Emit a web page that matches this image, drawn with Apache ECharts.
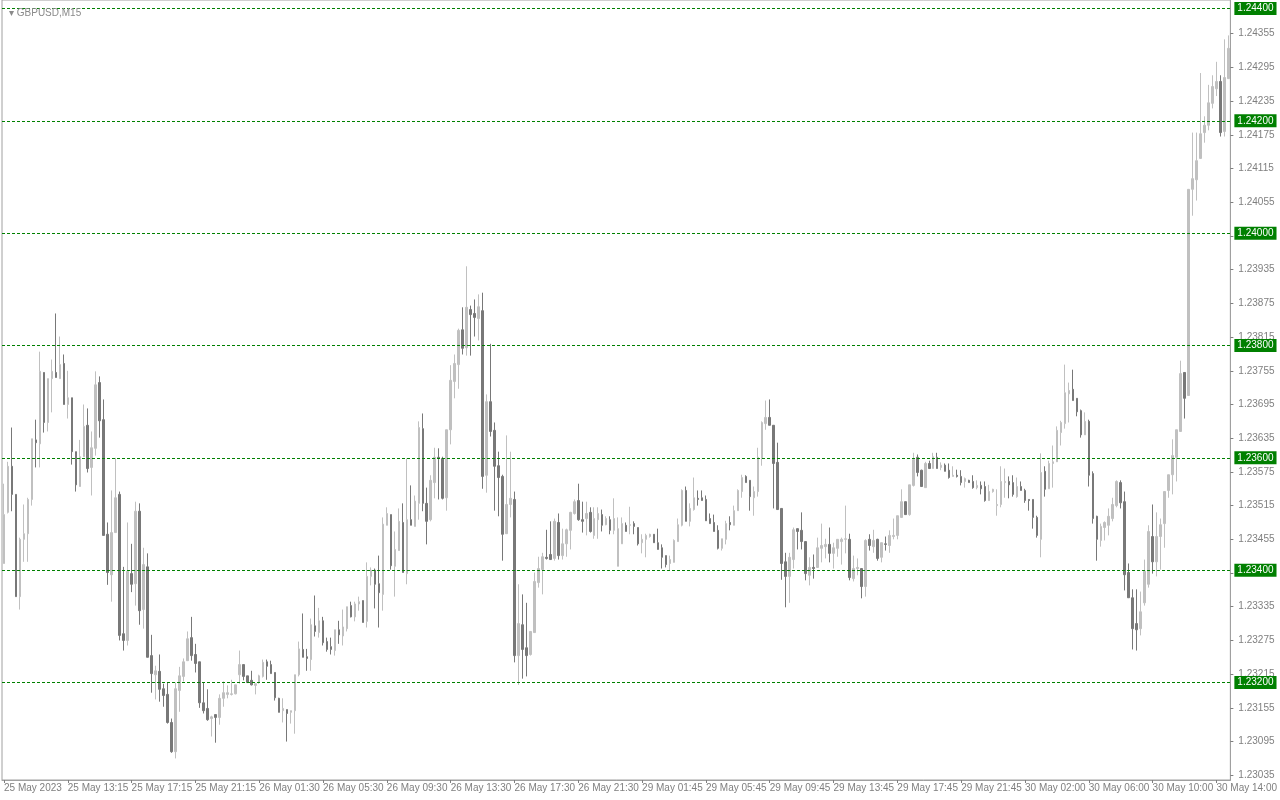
<!DOCTYPE html>
<html>
<head>
<meta charset="utf-8">
<script src="https://cdn.jsdelivr.net/npm/echarts@6/dist/echarts.min.js"></script>
<style>
html,body{margin:0;padding:0;background:#fff;}
#chart{width:1280px;height:800px;}
</style>
</head>
<body>
<div id="chart"></div>
<script>
// ---- data (GBPUSD, M15) ----
const symbolTitle = 'GBPUSD,M15';
const timeLabels = ['25 May 2023','25 May 13:15','25 May 17:15','25 May 21:15','26 May 01:30','26 May 05:30','26 May 09:30','26 May 13:30','26 May 17:30','26 May 21:30','29 May 01:45','29 May 05:45','29 May 09:45','29 May 13:45','29 May 17:45','29 May 21:45','30 May 02:00','30 May 06:00','30 May 10:00','30 May 14:00'];
const barsPerTimeLabel = 16;
const priceTicks = [1.23035,1.23095,1.23155,1.23215,1.23275,1.23335,1.23395,1.23455,1.23515,1.23575,1.23635,1.23695,1.23755,1.23815,1.23875,1.23935,1.23995,1.24055,1.24115,1.24175,1.24235,1.24295,1.24355];
const levels = [1.24400,1.24200,1.24000,1.23800,1.23600,1.23400,1.23200];

const open = [1.23412,1.23503,1.23585,1.23535,1.23353,1.23455,1.23465,1.23526,1.23632,1.23625,1.23752,1.23663,1.23741,1.23752,1.23741,1.23768,1.23695,1.23707,1.23611,1.23549,1.23602,1.23658,1.23583,1.23617,1.23734,1.23668,1.23464,1.23392,1.23467,1.23535,
1.23287,1.23275,1.23394,1.23376,1.23505,1.23330,1.23406,1.23248,1.23214,1.23220,1.23189,1.23179,1.23129,1.23077,1.23186,1.23211,1.23239,1.23280,1.23250,1.23237,
1.23164,1.23154,1.23136,1.23143,1.23138,1.23172,1.23179,1.23179,1.23180,1.23214,1.23232,1.23212,1.23204,1.23195,1.23200,1.23211,1.23237,1.23232,1.23218,1.23172,
1.23150,1.23152,1.23147,1.23150,1.23214,1.23259,1.23246,1.23241,1.23301,1.23289,1.23310,1.23273,1.23264,1.23257,1.23294,1.23283,1.23296,1.23337,1.23317,1.23340,
1.23346,1.23309,1.23389,1.23400,1.23376,1.23357,1.23480,1.23499,1.23407,1.23435,1.23485,1.23394,1.23490,1.23478,1.23519,1.23652,1.23519,1.23490,1.23556,1.23601,
1.23599,1.23529,1.23650,1.23736,1.23766,1.23828,1.23796,1.23864,1.23857,1.23848,1.23862,1.23569,1.23700,1.23649,1.23586,1.23567,1.23465,1.23517,1.23526,1.23248,
1.23303,1.23262,1.23250,1.23289,1.23378,1.23401,1.23423,1.23428,1.23421,1.23485,1.23426,1.23447,1.23471,1.23501,1.23524,1.23490,1.23492,1.23503,1.23462,1.23490,
1.23499,1.23481,1.23490,1.23471,1.23407,1.23447,1.23480,1.23480,1.23483,1.23476,1.23449,1.23455,1.23460,1.23464,1.23449,1.23440,1.23426,1.23412,1.23414,1.23451,
1.23480,1.23542,1.23487,1.23508,1.23528,1.23529,1.23526,1.23492,1.23485,1.23471,1.23439,1.23455,1.23485,1.23480,1.23506,1.23540,1.23567,1.23560,1.23529,1.23540,
1.23599,1.23661,1.23672,1.23658,1.23592,1.23510,1.23415,1.23389,1.23419,1.23474,1.23471,1.23451,1.23391,1.23405,1.23405,1.23439,1.23442,1.23446,1.23430,1.23439,
1.23451,1.23455,1.23455,1.23385,1.23403,1.23403,1.23371,1.23455,1.23442,1.23455,1.23423,1.23447,1.23444,1.23460,1.23462,1.23494,1.23522,1.23499,1.23551,1.23601,
1.23578,1.23547,1.23590,1.23581,1.23601,1.23583,1.23587,1.23578,1.23567,1.23569,1.23567,1.23558,1.23560,1.23558,1.23547,1.23551,1.23549,1.23524,1.23540,1.23515,
1.23517,1.23556,1.23558,1.23556,1.23531,1.23549,1.23542,1.23526,1.23526,1.23494,1.23455,1.23576,1.23545,1.23590,1.23593,1.23645,1.23661,1.23714,1.23722,1.23706,
1.23684,1.23641,1.23665,1.23572,1.23496,1.23453,1.23476,1.23480,1.23492,1.23515,1.23556,1.23522,1.23396,1.23351,1.23305,1.23296,1.23342,1.23375,1.23460,1.23415,
1.23460,1.23483,1.23542,1.23570,1.23601,1.23647,1.23752,1.23711,1.24078,1.24095,1.24133,1.24179,1.24192,1.24231,1.24257,1.24270,1.24181,1.24275];

const close = [1.23499,1.23585,1.23535,1.23353,1.23455,1.23465,1.23526,1.23634,1.23627,1.23754,1.23663,1.23741,1.23754,1.23743,1.23766,1.23695,1.23707,1.23611,1.23552,1.23602,1.23656,1.23581,1.23618,1.23730,1.23666,1.23462,1.23396,1.23467,1.23529,1.23284,
1.23275,1.23398,1.23375,1.23505,1.23328,1.23410,1.23245,1.23216,1.23221,1.23188,1.23177,1.23129,1.23077,1.23189,1.23212,1.23237,1.23278,1.23248,1.23234,1.23164,
1.23150,1.23134,1.23139,1.23138,1.23172,1.23182,1.23182,1.23180,1.23196,1.23232,1.23211,1.23200,1.23196,1.23198,1.23212,1.23236,1.23229,1.23216,1.23173,1.23147,
1.23154,1.23145,1.23150,1.23214,1.23260,1.23245,1.23243,1.23303,1.23291,1.23310,1.23271,1.23259,1.23259,1.23294,1.23285,1.23299,1.23335,1.23317,1.23340,1.23344,
1.23307,1.23389,1.23400,1.23375,1.23360,1.23482,1.23501,1.23408,1.23437,1.23487,1.23396,1.23490,1.23480,1.23523,1.23654,1.23519,1.23487,1.23560,1.23601,1.23599,
1.23528,1.23650,1.23738,1.23768,1.23827,1.23795,1.23868,1.23855,1.23850,1.23869,1.23567,1.23700,1.23647,1.23585,1.23565,1.23464,1.23517,1.23528,1.23248,1.23305,
1.23259,1.23248,1.23291,1.23380,1.23403,1.23424,1.23421,1.23419,1.23487,1.23426,1.23447,1.23472,1.23503,1.23522,1.23490,1.23487,1.23501,1.23469,1.23492,1.23501,
1.23480,1.23492,1.23471,1.23492,1.23474,1.23483,1.23469,1.23481,1.23478,1.23447,1.23455,1.23462,1.23464,1.23449,1.23437,1.23423,1.23410,1.23419,1.23453,1.23481,
1.23542,1.23487,1.23510,1.23529,1.23526,1.23524,1.23488,1.23483,1.23469,1.23439,1.23456,1.23483,1.23481,1.23506,1.23542,1.23565,1.23556,1.23531,1.23540,1.23601,
1.23663,1.23672,1.23658,1.23590,1.23508,1.23412,1.23389,1.23423,1.23472,1.23469,1.23451,1.23394,1.23405,1.23403,1.23440,1.23444,1.23446,1.23430,1.23440,1.23455,
1.23455,1.23456,1.23387,1.23403,1.23405,1.23371,1.23453,1.23444,1.23453,1.23421,1.23449,1.23446,1.23462,1.23462,1.23497,1.23522,1.23499,1.23552,1.23597,1.23574,
1.23549,1.23590,1.23581,1.23602,1.23581,1.23587,1.23576,1.23565,1.23569,1.23567,1.23556,1.23563,1.23556,1.23547,1.23551,1.23545,1.23524,1.23540,1.23544,1.23517,
1.23558,1.23558,1.23552,1.23535,1.23549,1.23542,1.23524,1.23524,1.23494,1.23462,1.23574,1.23544,1.23590,1.23593,1.23649,1.23663,1.23716,1.23720,1.23702,1.23682,
1.23641,1.23665,1.23569,1.23492,1.23455,1.23478,1.23485,1.23496,1.23517,1.23558,1.23520,1.23392,1.23351,1.23296,1.23294,1.23326,1.23398,1.23469,1.23415,1.23460,
1.23481,1.23540,1.23570,1.23604,1.23650,1.23750,1.23706,1.24078,1.24097,1.24129,1.24177,1.24192,1.24232,1.24261,1.24270,1.24179,1.24277,1.24329];

const high = [1.23554,1.23593,1.23654,1.23535,1.23458,1.23517,1.23529,1.23634,1.23668,1.23789,1.23752,1.23741,1.23775,1.23857,1.23816,1.23784,1.23755,1.23707,1.23611,1.23632,1.23695,1.23688,1.23647,1.23754,1.23745,1.23704,1.23485,1.23542,1.23600,1.23540,
1.23406,1.23485,1.23447,1.23522,1.23519,1.23440,1.23430,1.23285,1.23230,1.23250,1.23198,1.23200,1.23136,1.23200,1.23228,1.23243,1.23291,1.23317,1.23269,1.23237,
1.23200,1.23188,1.23141,1.23143,1.23179,1.23202,1.23195,1.23205,1.23196,1.23257,1.23232,1.23212,1.23221,1.23198,1.23214,1.23241,1.23241,1.23239,1.23218,1.23173,
1.23172,1.23152,1.23150,1.23214,1.23273,1.23323,1.23260,1.23314,1.23355,1.23333,1.23317,1.23280,1.23280,1.23294,1.23310,1.23330,1.23335,1.23344,1.23344,1.23353,
1.23346,1.23414,1.23405,1.23403,1.23426,1.23494,1.23512,1.23499,1.23469,1.23510,1.23519,1.23599,1.23551,1.23533,1.23665,1.23679,1.23547,1.23569,1.23618,1.23617,
1.23602,1.23650,1.23765,1.23784,1.23830,1.23868,1.23941,1.23871,1.23882,1.23891,1.23894,1.23713,1.23803,1.23663,1.23611,1.23570,1.23640,1.23611,1.23540,1.23375,
1.23357,1.23342,1.23291,1.23396,1.23424,1.23431,1.23472,1.23487,1.23492,1.23501,1.23474,1.23474,1.23504,1.23526,1.23554,1.23522,1.23522,1.23512,1.23512,1.23512,
1.23508,1.23496,1.23496,1.23528,1.23494,1.23494,1.23485,1.23513,1.23487,1.23476,1.23464,1.23465,1.23465,1.23464,1.23474,1.23446,1.23426,1.23426,1.23455,1.23492,
1.23544,1.23549,1.23519,1.23565,1.23542,1.23542,1.23533,1.23501,1.23499,1.23480,1.23456,1.23488,1.23496,1.23515,1.23544,1.23570,1.23569,1.23560,1.23549,1.23618,
1.23665,1.23702,1.23704,1.23658,1.23627,1.23510,1.23431,1.23431,1.23476,1.23474,1.23503,1.23451,1.23423,1.23428,1.23458,1.23483,1.23456,1.23476,1.23449,1.23455,
1.23458,1.23515,1.23465,1.23426,1.23421,1.23403,1.23455,1.23464,1.23472,1.23456,1.23449,1.23460,1.23471,1.23492,1.23497,1.23544,1.23522,1.23552,1.23609,1.23606,
1.23579,1.23593,1.23595,1.23609,1.23609,1.23592,1.23590,1.23590,1.23585,1.23579,1.23578,1.23565,1.23561,1.23569,1.23560,1.23558,1.23558,1.23552,1.23545,1.23544,
1.23585,1.23581,1.23567,1.23569,1.23565,1.23558,1.23545,1.23526,1.23526,1.23497,1.23608,1.23585,1.23595,1.23622,1.23656,1.23666,1.23766,1.23734,1.23757,1.23706,
1.23686,1.23681,1.23668,1.23576,1.23497,1.23483,1.23487,1.23510,1.23529,1.23560,1.23560,1.23540,1.23412,1.23366,1.23366,1.23362,1.23419,1.23480,1.23517,1.23503,
1.23492,1.23540,1.23570,1.23633,1.23650,1.23773,1.23752,1.24078,1.24179,1.24179,1.24285,1.24208,1.24264,1.24281,1.24305,1.24281,1.24345,1.24352];

const low = [1.23412,1.23501,1.23505,1.23353,1.23330,1.23415,1.23415,1.23515,1.23583,1.23583,1.23645,1.23647,1.23681,1.23743,1.23741,1.23695,1.23670,1.23588,1.23540,1.23549,1.23602,1.23574,1.23533,1.23604,1.23636,1.23462,1.23374,1.23344,1.23467,1.23275,
1.23257,1.23266,1.23361,1.23337,1.23303,1.23296,1.23245,1.23182,1.23170,1.23166,1.23157,1.23127,1.23075,1.23065,1.23148,1.23202,1.23239,1.23239,1.23218,1.23155,
1.23145,1.23132,1.23104,1.23093,1.23125,1.23157,1.23172,1.23177,1.23179,1.23198,1.23204,1.23200,1.23195,1.23179,1.23198,1.23209,1.23205,1.23216,1.23168,1.23147,
1.23129,1.23095,1.23127,1.23109,1.23211,1.23245,1.23221,1.23221,1.23282,1.23280,1.23266,1.23255,1.23250,1.23248,1.23269,1.23266,1.23291,1.23316,1.23309,1.23328,
1.23307,1.23298,1.23373,1.23332,1.23298,1.23328,1.23480,1.23401,1.23353,1.23435,1.23396,1.23375,1.23480,1.23478,1.23490,1.23505,1.23446,1.23487,1.23528,1.23526,
1.23526,1.23506,1.23624,1.23706,1.23723,1.23784,1.23782,1.23782,1.23816,1.23809,1.23545,1.23538,1.23638,1.23506,1.23496,1.23417,1.23465,1.23494,1.23236,1.23196,
1.23207,1.23211,1.23248,1.23289,1.23369,1.23357,1.23419,1.23419,1.23417,1.23419,1.23419,1.23424,1.23437,1.23499,1.23488,1.23467,1.23462,1.23467,1.23456,1.23456,
1.23469,1.23480,1.23464,1.23464,1.23407,1.23447,1.23469,1.23464,1.23464,1.23444,1.23430,1.23423,1.23458,1.23449,1.23437,1.23403,1.23405,1.23400,1.23414,1.23451,
1.23478,1.23487,1.23478,1.23506,1.23515,1.23524,1.23488,1.23483,1.23469,1.23437,1.23435,1.23446,1.23471,1.23480,1.23506,1.23529,1.23556,1.23506,1.23497,1.23531,
1.23586,1.23650,1.23658,1.23510,1.23508,1.23383,1.23334,1.23342,1.23403,1.23437,1.23437,1.23382,1.23373,1.23385,1.23405,1.23414,1.23421,1.23414,1.23403,1.23424,
1.23410,1.23430,1.23382,1.23380,1.23391,1.23350,1.23353,1.23435,1.23431,1.23417,1.23414,1.23435,1.23431,1.23455,1.23455,1.23494,1.23499,1.23497,1.23549,1.23567,
1.23549,1.23547,1.23581,1.23581,1.23581,1.23578,1.23576,1.23563,1.23567,1.23565,1.23551,1.23547,1.23556,1.23545,1.23544,1.23535,1.23522,1.23524,1.23538,1.23497,
1.23512,1.23529,1.23528,1.23531,1.23529,1.23542,1.23520,1.23506,1.23474,1.23458,1.23423,1.23531,1.23545,1.23547,1.23593,1.23622,1.23652,1.23663,1.23702,1.23674,
1.23636,1.23641,1.23549,1.23483,1.23417,1.23442,1.23453,1.23462,1.23487,1.23512,1.23510,1.23364,1.23351,1.23259,1.23257,1.23284,1.23337,1.23369,1.23394,1.23389,
1.23401,1.23440,1.23529,1.23535,1.23558,1.23647,1.23670,1.23711,1.24031,1.24058,1.24133,1.24161,1.24183,1.24222,1.24244,1.24172,1.24172,1.24275];

// ---- chart ----
const barIndex = open.map((_, i) => i);
const ohlc = open.map((o, i) => [o, close[i], low[i], high[i]]);
const isTimeLabel = (i) => i % barsPerTimeLabel === 0;

const font = 'Liberation Sans, Arial, sans-serif';
const axisGray = '#a0a0a0';
const textGray = '#7f7f7f';
const levelGreen = '#008000';

const chart = echarts.init(document.getElementById('chart'), null, { renderer: 'canvas' });
chart.setOption({
  animation: false,
  backgroundColor: '#ffffff',
  title: {
    text: '\u25BE ' + symbolTitle,
    left: 4, top: 3,
    textStyle: { fontFamily: font, fontSize: 10, fontWeight: 'normal', color: '#8a8a8a' }
  },
  grid: {
    left: 2, top: 0, width: 1232, height: 780,
    show: true, borderColor: axisGray, borderWidth: 1, backgroundColor: 'transparent'
  },
  xAxis: {
    type: 'category',
    data: barIndex,
    boundaryGap: true,
    axisLine: { show: true, lineStyle: { color: axisGray } },
    axisTick: { show: true, alignWithLabel: true, interval: isTimeLabel, length: 3, lineStyle: { color: textGray } },
    axisLabel: {
      interval: isTimeLabel,
      formatter: (v, i) => (isTimeLabel(i) ? (timeLabels[i / barsPerTimeLabel] || '') : ''),
      align: 'left', margin: 3,
      fontFamily: font, fontSize: 10, color: textGray
    },
    splitLine: { show: false }
  },
  yAxis: {
    type: 'value',
    position: 'right',
    min: 1.230266, max: 1.24415,
    axisLine: { show: true, lineStyle: { color: axisGray } },
    axisTick: { show: true, customValues: priceTicks, length: 3, lineStyle: { color: textGray } },
    axisLabel: {
      customValues: priceTicks,
      formatter: (v) => v.toFixed(5),
      margin: 8,
      fontFamily: font, fontSize: 10, color: textGray
    },
    splitLine: { show: false }
  },
  series: [
    {
      type: 'candlestick',
      data: ohlc,
      barWidth: 2,
      clip: false,
      itemStyle: {
        color: '#c0c0c0', borderColor: '#c0c0c0',
        color0: '#787878', borderColor0: '#787878',
        borderWidth: 1
      },
      markLine: {
        silent: true,
        animation: false,
        precision: 5,
        symbol: ['none', 'none'],
        lineStyle: { color: levelGreen, type: [3, 2], width: 1 },
        label: {
          show: true, position: 'end', distance: 4,
          formatter: (p) => Number(p.value).toFixed(5),
          color: '#ffffff', backgroundColor: levelGreen,
          fontFamily: font, fontSize: 10, lineHeight: 11,
          padding: [1, 3, 1, 3]
        },
        data: levels.map(v => ({ yAxis: v }))
      }
    }
  ]
});
</script>
</body>
</html>
